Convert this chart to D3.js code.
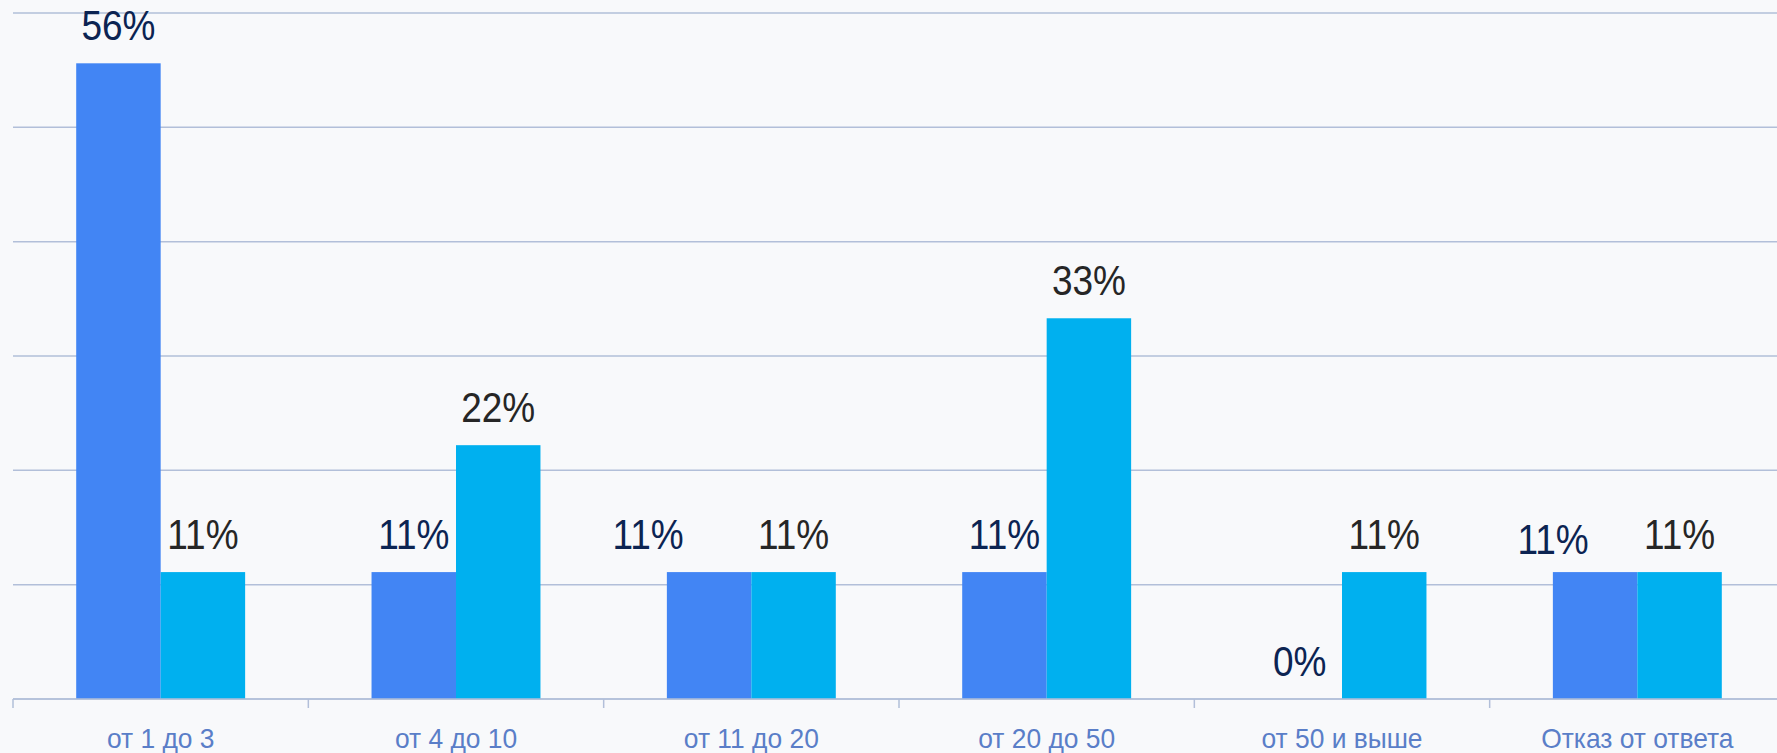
<!DOCTYPE html>
<html>
<head>
<meta charset="utf-8">
<script src="https://cdn.jsdelivr.net/npm/d3@7"></script>
<style>
  html, body { margin: 0; padding: 0; background: #f8f9fb; }
  svg { display: block; }
</style>
</head>
<body>
<svg id="chart" width="1777" height="753"></svg>
<script>
// Categories along the x axis
const categories = ["от 1 до 3", "от 4 до 10", "от 11 до 20", "от 20 до 50", "от 50 и выше", "Отказ от ответа"];
// Two series (percent of respondents)
const seriesA = [55.6, 11.1, 11.1, 11.1, 0, 11.1];
const seriesB = [11.1, 22.2, 11.1, 33.3, 11.1, 11.1];
// Value-axis gridline ticks
const yTicks = [0, 10, 20, 30, 40, 50, 60];
// Hand nudges for the first series' value labels (px)
const labelShiftX = [0, 0, -61, 0, 0, -42];
const labelShiftY = [0, 0, 0, 0, 0, 5];

const W = 1777, H = 753;
const plotLeft = 13, plotRight = 1785, plotTop = 13, plotBottom = 699;
const colors = ["#4285f4", "#00b0ef"];
const labelColors = ["#0c2452", "#262626"];
const gridColor = "#b2bfd9";

const svg = d3.select("#chart");

const x0 = d3.scaleBand().domain(categories).range([plotLeft, plotRight])
  .paddingInner(0.428).paddingOuter(0.214);
const x1 = d3.scaleBand().domain([0, 1]).range([0, x0.bandwidth()]);
const y = d3.scaleLinear().domain([0, 60]).range([plotBottom, plotTop]);

// Gridlines
svg.append("g").selectAll("line").data(yTicks).join("line")
  .attr("x1", plotLeft).attr("x2", W)
  .attr("y1", d => y(d)).attr("y2", d => y(d))
  .attr("stroke", gridColor).attr("stroke-width", 1.5);

// Bars
const rows = categories.map((c, i) => ({ c, i, vals: [seriesA[i], seriesB[i]] }));
const groups = svg.append("g").selectAll("g").data(rows).join("g")
  .attr("transform", d => `translate(${x0(d.c)},0)`);
groups.selectAll("rect").data(d => d.vals.map((v, s) => ({ v, s }))).join("rect")
  .attr("x", d => x1(d.s)).attr("width", x1.bandwidth())
  .attr("y", d => y(d.v)).attr("height", d => y(0) - y(d.v))
  .attr("fill", d => colors[d.s]);

// Category axis: boundary ticks and centered labels
const step = x0.step();
const boundaries = d3.range(categories.length + 1).map(i => plotLeft + i * step);
const axis = svg.append("g");
axis.append("line").attr("x1", plotLeft).attr("x2", W).attr("y1", plotBottom).attr("y2", plotBottom)
  .attr("stroke", gridColor).attr("stroke-width", 1.5);
axis.selectAll("line.tick").data(boundaries).join("line").attr("class", "tick")
  .attr("x1", d => d).attr("x2", d => d).attr("y1", plotBottom).attr("y2", plotBottom + 9)
  .attr("stroke", gridColor).attr("stroke-width", 1.5);
axis.selectAll("text.cat").data(categories).join("text").attr("class", "cat")
  .attr("transform", d => `translate(${x0(d) + x0.bandwidth() / 2},748) scale(0.96,1)`)
  .attr("text-anchor", "middle")
  .attr("font-family", "Liberation Sans, Arial, sans-serif")
  .attr("font-size", 27.5).attr("fill", "#5a7ec8")
  .text(d => d);

// Value labels
const fmt = v => Math.round(v) + "%";
const labels = [];
rows.forEach(r => r.vals.forEach((v, s) => {
  let cx = x0(r.c) + x1(s) + x1.bandwidth() / 2;
  let cy = y(v) - 23;
  if (s === 0) { cx += labelShiftX[r.i]; cy += labelShiftY[r.i]; }
  labels.push({ v, s, cx, cy });
}));
svg.append("g").selectAll("text").data(labels).join("text")
  .attr("transform", d => `translate(${d.cx},${d.cy}) scale(0.87,1)`)
  .attr("text-anchor", "middle")
  .attr("font-family", "Liberation Sans, Arial, sans-serif")
  .attr("font-size", 42.5).attr("fill", d => labelColors[d.s])
  .text(d => fmt(d.v));
</script>
</body>
</html>
